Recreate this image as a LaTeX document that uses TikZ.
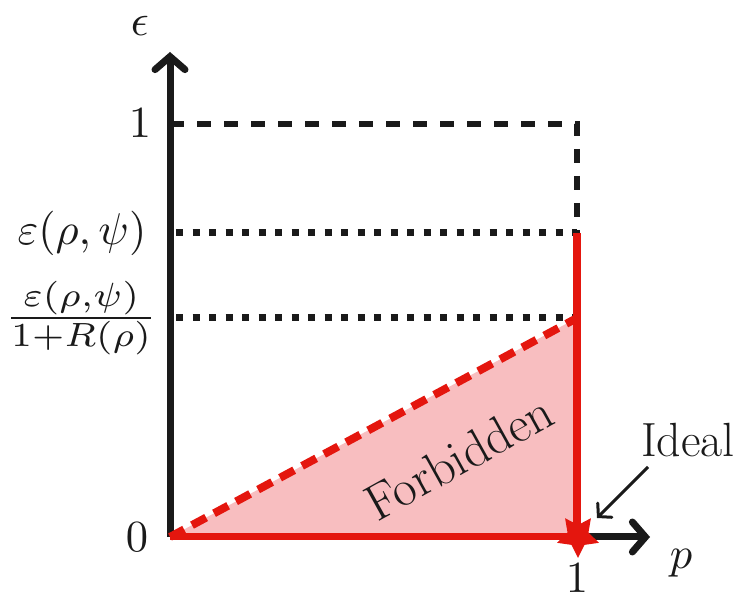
\documentclass[tikz,border=0pt]{standalone}
\usepackage{graphicx}
\usetikzlibrary{arrows.meta,shapes.geometric}
\definecolor{redline}{RGB}{228,22,14}
\definecolor{pinkfill}{RGB}{248,190,192}
\definecolor{axisblack}{RGB}{26,26,26}
\newcommand{\mlab}[1]{\scalebox{4.45}{$#1$}}
\begin{document}
\begin{tikzpicture}[x=1pt,y=-1pt,
  lbl/.style={font=\fontsize{51}{60}\selectfont, inner sep=0pt, text=axisblack},
  mlbl/.style={font=\normalsize, inner sep=0pt, text=axisblack},
  axisline/.style={draw=axisblack, line width=7pt, -{Straight Barb[length=13pt,width=30pt,line cap=round]}},
  guidedash/.style={draw=axisblack, line width=6pt, dash pattern=on 14pt off 13pt},
  guidedot/.style={draw=axisblack, line width=7pt, dash pattern=on 7pt off 9.5pt},
  redthick/.style={draw=redline, line width=8pt},
  reddash/.style={draw=redline, line width=8pt, dash pattern=on 16pt off 9pt},
  pointer/.style={draw=axisblack, line width=3pt, -{Straight Barb[length=9pt,width=20pt,line cap=round]}}]
\useasboundingbox (0,0) rectangle (748,609);
% key points
\coordinate (O) at (170,537);
\coordinate (Ytop) at (170,52);
\coordinate (Xend) at (650,537);
\coordinate (Xone) at (577,537);
\coordinate (Yone) at (170,124);
\coordinate (Cone) at (577,124);
\coordinate (Yeps) at (170,233);
\coordinate (Ceps) at (577,233);
\coordinate (Yfrac) at (170,318);
\coordinate (Cfrac) at (577,318);
% forbidden region
\fill[pinkfill] (O) -- (Xone) -- (Cfrac) -- cycle;
% axes
\draw[axisline] (O) -- (Ytop);
\draw[axisline] (O) -- (Xend);
% guides
\draw[guidedash] (Yone) -- (Cone) -- (Ceps);
\draw[guidedot] (176,233) -- (Ceps);
\draw[guidedot] (176,318) -- (Cfrac);
% red lines
\draw[redthick, line width=7pt] (O) -- (Xone);
\draw[redthick] (Ceps) -- (Xone);
\draw[reddash] (O) -- (Cfrac);
% star
\node[star, star points=5, star point ratio=2.0, shape border rotate=180, fill=redline, minimum size=44pt, inner sep=0pt] (ideal) at (578,536) {};
% labels
\node[mlbl] (eps) at (140,26) {\mlab{\epsilon}};
\node[mlbl] (one) at (140,123) {\mlab{1}};
\node[mlbl] (veps) at (82,233) {\mlab{\varepsilon(\rho,\psi)}};
\node[mlbl] (frac) at (81,318) {\scalebox{5.25}[4.8]{$\frac{\varepsilon(\rho,\psi)}{1+R(\rho)}$}};
\node[mlbl] (zero) at (137,537) {\mlab{0}};
\node[mlbl] (xone) at (577,578) {\mlab{1}};
\node[mlbl] (p) at (681,563) {\mlab{p}};
\node[lbl, rotate=29] (forb) at (459,457) {Forbidden};
\node[lbl, font=\fontsize{48}{56}\selectfont] (ideallbl) at (688,440) {Ideal};
\coordinate (ptrstart) at (648,467);
\coordinate (ptrend) at (597,518);
\draw[pointer] (ptrstart) -- (ptrend);
\end{tikzpicture}
\end{document}
